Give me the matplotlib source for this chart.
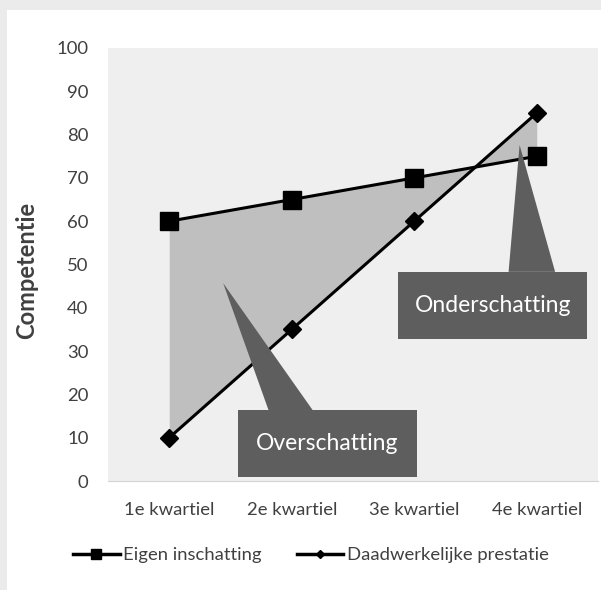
import matplotlib
matplotlib.use("Agg")
import matplotlib.pyplot as plt
from matplotlib.lines import Line2D
from matplotlib.patches import Polygon, Rectangle

categories = ["1e kwartiel", "2e kwartiel", "3e kwartiel", "4e kwartiel"]
eigen_inschatting = [60, 65, 70, 75]
daadwerkelijke_prestatie = [10, 35, 60, 85]
y_ticks = [0, 10, 20, 30, 40, 50, 60, 70, 80, 90, 100]

plt.rcParams["font.family"] = ["Lato", "DejaVu Sans"]

TEXT_COLOR = "#404040"
CALLOUT_COLOR = "#5e5e5e"


def add_callout(ax, rect, base, tip, label):
    x0, x1, y0, y1 = rect
    ax.add_patch(Rectangle((x0, y0), x1 - x0, y1 - y0, facecolor=CALLOUT_COLOR,
                           edgecolor="none", zorder=5, clip_on=False))
    ax.add_patch(Polygon([(base[0], y1), (base[1], y1), tip], closed=True,
                         facecolor=CALLOUT_COLOR, edgecolor="none", zorder=5,
                         clip_on=False))
    ax.text((x0 + x1) / 2, (y0 + y1) / 2, label, color="white", fontsize=16.5,
            ha="center", va="center", zorder=6)


def main():
    fig = plt.figure(figsize=(6.01, 5.90), dpi=100)
    fig.patch.set_facecolor("#ebebeb")
    fig.add_artist(Rectangle((7 / 601, 0), 1, 1 - 10 / 590, transform=fig.transFigure,
                             facecolor="white", edgecolor="none", zorder=0))

    ax = fig.add_axes([108 / 601, 109 / 590, 490 / 601, 433 / 590])
    ax.set_facecolor("#efefef")

    x = list(range(len(categories)))
    ax.fill_between(x, eigen_inschatting, daadwerkelijke_prestatie,
                    color="#bfbfbf", linewidth=0, zorder=2)
    ax.plot(x, eigen_inschatting, color="black", linewidth=2.2, marker="s",
            markersize=13, zorder=4)
    ax.plot(x, daadwerkelijke_prestatie, color="black", linewidth=2.2, marker="D",
            markersize=9, zorder=4)

    add_callout(ax, (0.56, 2.02, 0.9, 16.4), (0.81, 1.17), (0.44, 45.7), "Overschatting")
    add_callout(ax, (1.87, 3.41, 32.8, 48.3), (2.77, 3.15), (2.86, 77.6), "Onderschatting")

    ax.set_xlim(-0.5, 3.5)
    ax.set_ylim(0, 100)
    ax.set_yticks(y_ticks)
    ax.set_xticks(x)
    ax.set_xticklabels(categories)
    ax.tick_params(length=0, labelsize=13.3, colors=TEXT_COLOR)
    ax.tick_params(axis="y", pad=14)
    ax.tick_params(axis="x", pad=15)
    for side in ["top", "right", "left"]:
        ax.spines[side].set_visible(False)
    ax.spines["bottom"].set_color("#d4d4d4")

    fig.text(27 / 601, 1 - 270 / 590, "Competentie", rotation=90, fontsize=17,
             fontweight="bold", color=TEXT_COLOR, ha="center", va="center")

    handles = [
        Line2D([], [], color="black", linewidth=2.5, marker="s", markersize=7),
        Line2D([], [], color="black", linewidth=2.5, marker="D", markersize=4),
    ]
    fig.legend(handles, ["Eigen inschatting", "Daadwerkelijke prestatie"],
               loc="center", bbox_to_anchor=(311 / 601, 35 / 590), ncol=2,
               frameon=False, fontsize=13.3, handlelength=2.5, columnspacing=1.9,
               handletextpad=0.2, labelcolor=TEXT_COLOR)

    fig.savefig("out.png", dpi=100, facecolor=fig.get_facecolor())
    plt.close(fig)


if __name__ == "__main__":
    main()
